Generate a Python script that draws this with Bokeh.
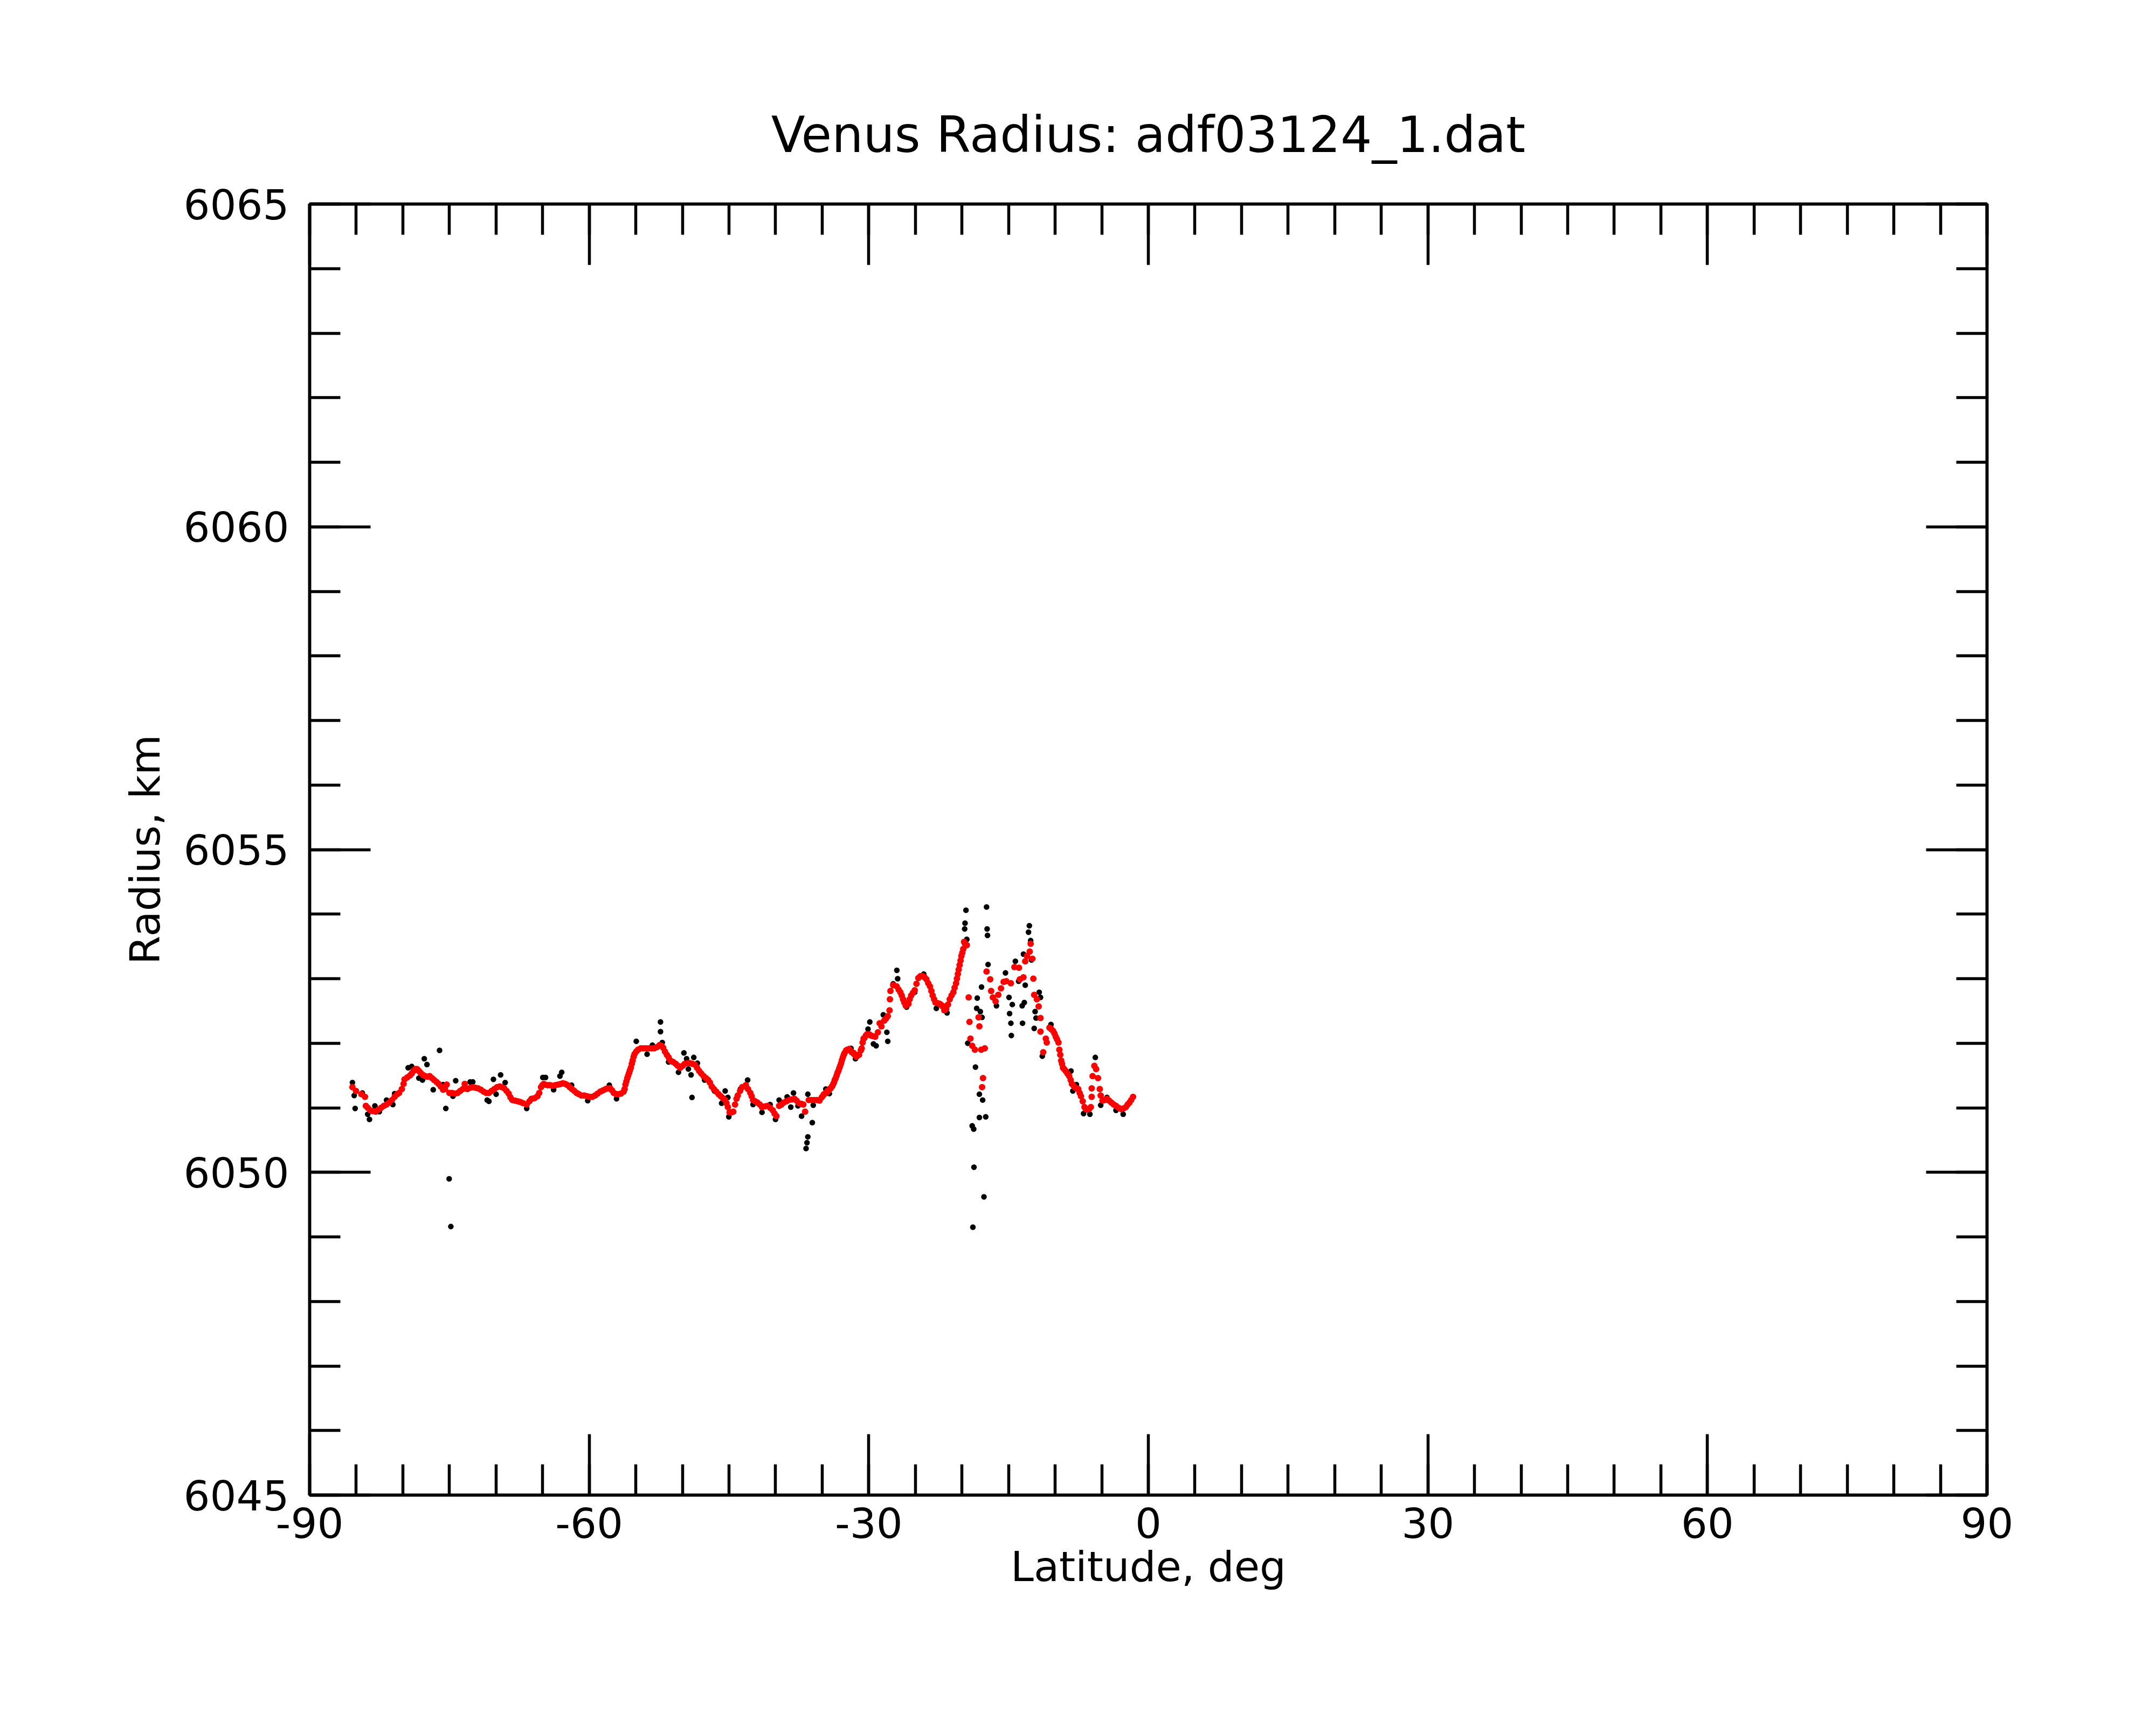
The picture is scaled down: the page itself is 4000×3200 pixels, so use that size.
from bokeh.plotting import figure
from bokeh.models import Range1d, SingleIntervalTicker, LinearAxis, CustomJSTickFormatter
from bokeh.embed import file_html
from bokeh.resources import INLINE

# ---- data ----
# filtered / smoothed radius (red)
red_lat = [-85.41, -85.03, -84.45, -84.06, -83.97, -83.48, -82.91, -82.33, -81.75, -81.17,
           -80.59, -80.11, -79.82, -79.24, -78.86, -78.47, -78.09, -77.60, -77.12, -76.64,
           -76.16, -75.68, -75.29, -75.00, -74.42, -73.84, -73.36, -73.07, -72.49, -71.92,
           -71.34, -70.76, -70.18, -69.60, -69.12, -68.64, -68.25, -67.67, -67.10, -66.71,
           -66.13, -65.55, -65.17, -64.88,
           -64.78, -64.20, -63.63, -63.05, -62.57, -62.09, -61.60, -61.12, -60.54, -59.96,
           -59.38, -58.81, -58.23, -57.75, -57.36, -56.88, -56.30, -56.11, -55.91, -55.72,
           -55.53, -55.34, -55.14, -54.76, -54.18, -53.60, -53.02, -52.45, -52.06, -51.67,
           -51.29, -50.71, -50.23, -49.75, -49.17, -48.68, -48.20, -47.72, -47.24, -46.85,
           -46.37, -45.89, -45.41, -45.12, -44.93, -44.54, -44.35, -44.06, -43.58,
           -43.19, -42.71, -42.42, -41.94, -41.46, -40.88, -40.30, -39.91, -39.62, -39.14,
           -38.56, -37.98, -37.50, -37.02, -36.83, -36.44, -35.86, -35.29, -34.80, -34.32,
           -33.84, -33.55, -33.26, -32.97, -32.68, -32.30, -31.82, -31.33, -30.85, -30.56,
           -30.18, -29.60, -29.31, -29.02, -28.83, -28.34, -27.96, -27.77, -27.67, -27.38,
           -27.00, -26.61, -26.32, -26.03, -25.74, -25.45, -25.07, -24.68, -24.20, -23.81,
           -23.43, -23.14, -22.85, -22.37, -22.08,
           -21.98, -21.69, -21.31, -20.92, -20.63, -20.44, -20.25, -20.06, -19.86, -19.77,
           -19.48, -19.28, -19.19, -19.09, -18.90, -18.61, -18.22, -18.13, -17.93, -17.55,
           -17.74, -17.84, -17.36, -16.97, -16.87, -16.68, -16.39, -16.10, -15.81, -15.53,
           -15.24, -14.75, -14.37, -13.88, -13.79, -13.40, -13.21, -13.02, -12.73, -12.63,
           -12.44, -12.34, -12.25, -11.96, -11.77, -11.57, -11.57, -11.28, -11.00, -10.90,
           -10.61, -10.22, -9.93, -9.64, -9.55, -9.35, -9.16, -8.87, -8.49, -8.20,
           -7.91, -7.52, -7.23, -6.85, -6.56, -6.17, -6.08, -6.08, -5.98, -5.79,
           -5.60, -5.40, -5.21, -5.11, -4.92, -4.44, -3.96, -3.47, -2.90, -2.41,
           -2.03, -1.64]
red_r = [6051.32, 6051.26, 6051.21, 6051.17, 6051.03, 6050.96, 6050.94, 6051.00, 6051.05, 6051.12,
         6051.21, 6051.29, 6051.44, 6051.50, 6051.57, 6051.60, 6051.54, 6051.49, 6051.49, 6051.43,
         6051.37, 6051.28, 6051.36, 6051.23, 6051.22, 6051.26, 6051.37, 6051.29, 6051.32, 6051.30,
         6051.25, 6051.23, 6051.29, 6051.33, 6051.30, 6051.22, 6051.12, 6051.10, 6051.07, 6051.05,
         6051.14, 6051.18, 6051.32, 6051.37,
         6051.36, 6051.35, 6051.35, 6051.37, 6051.37, 6051.32, 6051.26, 6051.21, 6051.19, 6051.17,
         6051.19, 6051.25, 6051.29, 6051.30, 6051.23, 6051.21, 6051.25, 6051.36, 6051.46, 6051.54,
         6051.62, 6051.73, 6051.83, 6051.90, 6051.92, 6051.92, 6051.92, 6051.97, 6051.93, 6051.82,
         6051.73, 6051.68, 6051.62, 6051.68, 6051.69, 6051.67, 6051.57, 6051.49, 6051.43, 6051.33,
         6051.25, 6051.18, 6051.12, 6051.01, 6050.93, 6050.94, 6051.05, 6051.19, 6051.32,
         6051.35, 6051.23, 6051.12, 6051.08, 6051.01, 6051.03, 6050.96, 6050.87, 6051.03, 6051.08,
         6051.12, 6051.14, 6051.07, 6051.05, 6050.94, 6051.12, 6051.12, 6051.11, 6051.21, 6051.26,
         6051.36, 6051.46, 6051.57, 6051.69, 6051.82, 6051.90, 6051.86, 6051.79, 6051.89, 6052.07,
         6052.14, 6052.11, 6052.10, 6052.17, 6052.31, 6052.35, 6052.42, 6052.51, 6052.81, 6052.90,
         6052.88, 6052.79, 6052.68, 6052.58, 6052.61, 6052.74, 6052.82, 6053.01, 6053.04, 6052.99,
         6052.88, 6052.74, 6052.63, 6052.61, 6052.57,
         6052.57, 6052.53, 6052.68, 6052.79, 6052.93, 6053.07, 6053.21, 6053.35, 6053.46, 6053.57,
         6053.52, 6052.71, 6052.33, 6052.07, 6051.96, 6051.90, 6052.40, 6052.26, 6051.90, 6051.92,
         6051.46, 6051.32, 6053.11, 6052.99, 6052.81, 6052.71, 6052.65, 6052.75, 6052.85, 6052.95,
         6052.96, 6052.93, 6053.18, 6053.17, 6052.99, 6053.02, 6053.27, 6053.35, 6053.42, 6053.54,
         6053.31, 6053.00, 6052.75, 6052.68, 6052.57, 6052.39, 6052.18, 6051.86, 6052.07, 6052.01,
         6052.24, 6052.19, 6052.10, 6052.01, 6051.90, 6051.73, 6051.62, 6051.57, 6051.49, 6051.37,
         6051.32, 6051.29, 6051.18, 6051.01, 6050.97, 6051.01, 6051.17, 6051.30, 6051.49, 6051.65,
         6051.60, 6051.46, 6051.29, 6051.19, 6051.11, 6051.14, 6051.08, 6051.03, 6050.98, 6051.01,
         6051.08, 6051.17]

# further red points read between the ones above
red_lat_more = [-83.77, -83.29, -82.62, -82.04, -81.46, -80.88, -80.40, -79.92, -79.53, -79.05,
                -78.66, -78.28, -77.85, -77.37, -76.87, -76.39, -75.93, -75.48, -74.71, -74.13,
                -73.56, -72.78, -72.21, -71.63, -71.05, -70.47, -69.89, -69.37, -68.87, -68.45,
                -67.96, -67.39, -66.42, -65.84, -65.36, -65.02,
                -64.49, -63.92, -63.34, -62.82, -62.32, -61.85, -61.35, -60.83, -60.25, -59.67,
                -59.10, -58.52, -58.00, -57.55, -57.11, -56.59, -56.20, -56.01, -55.82, -55.63,
                -55.43, -55.24, -54.95, -54.47, -53.89, -53.31, -52.73, -52.25, -51.87, -51.48,
                -51.00, -50.48, -49.98, -49.46, -48.94, -48.43, -47.97, -47.47, -47.05, -46.62,
                -46.12, -45.66, -45.27, -44.73, -44.19, -43.81,
                -42.96, -42.57, -42.19, -41.69, -41.17, -40.59, -40.11, -39.37, -38.85, -38.27,
                -37.75, -37.25, -36.15, -35.58, -35.05, -34.55, -34.09, -32.01, -31.58, -31.08,
                -29.89, -28.64, -28.15, -26.80, -26.46, -26.19, -25.61, -25.26, -24.88, -24.45,
                -24.01, -23.62, -23.28, -22.99, -22.60, -22.21,
                -10.42, -10.07, -9.80, -8.68, -8.33, -8.06, -7.72, -7.37, -7.04, -6.71,
                -6.37, -4.67, -4.21, -3.71, -3.19, -2.67, -2.22, -1.84,
                -34.90, -34.61, -34.42, -34.13, -33.94, -33.74, -33.65, -33.45, -33.36, -33.17,
                -33.07, -32.88, -32.78, -32.59, -32.43, -32.11, -31.62, -31.04, -30.76, -30.66,
                -30.47, -30.31, -29.98, -29.79, -27.73,
                -21.89, -21.50, -21.12, -20.79, -20.54, -20.35, -20.15, -19.96, -19.67,
                -9.45, -9.26, -9.03]
red_r_more = [6051.00, 6050.95, 6050.97, 6051.03, 6051.08, 6051.17, 6051.23, 6051.37, 6051.47, 6051.53,
              6051.60, 6051.57, 6051.51, 6051.48, 6051.46, 6051.40, 6051.33, 6051.29, 6051.23, 6051.23,
              6051.29, 6051.31, 6051.31, 6051.28, 6051.23, 6051.26, 6051.32, 6051.32, 6051.26, 6051.16,
              6051.11, 6051.09, 6051.10, 6051.15, 6051.23, 6051.35,
              6051.35, 6051.34, 6051.36, 6051.38, 6051.35, 6051.29, 6051.23, 6051.19, 6051.18, 6051.17,
              6051.22, 6051.27, 6051.30, 6051.27, 6051.21, 6051.22, 6051.29, 6051.41, 6051.50, 6051.58,
              6051.68, 6051.79, 6051.87, 6051.92, 6051.92, 6051.92, 6051.94, 6051.96, 6051.87, 6051.78,
              6051.71, 6051.65, 6051.65, 6051.69, 6051.68, 6051.62, 6051.53, 6051.46, 6051.39, 6051.29,
              6051.21, 6051.15, 6051.07, 6050.93, 6051.14, 6051.26,
              6051.29, 6051.18, 6051.10, 6051.05, 6051.02, 6051.00, 6050.91, 6051.05, 6051.10, 6051.13,
              6051.11, 6051.06, 6051.12, 6051.12, 6051.16, 6051.23, 6051.30, 6051.89, 6051.83, 6051.82,
              6052.13, 6052.26, 6052.38, 6052.83, 6052.74, 6052.63, 6052.68, 6052.78, 6052.92, 6053.04,
              6053.02, 6052.93, 6052.81, 6052.68, 6052.62, 6052.59,
              6052.22, 6052.15, 6052.06, 6051.53, 6051.43, 6051.35, 6051.30, 6051.23, 6051.10, 6050.98,
              6050.98, 6051.12, 6051.11, 6051.05, 6051.00, 6050.99, 6051.05, 6051.12,
              6051.19, 6051.23, 6051.26, 6051.30, 6051.33, 6051.39, 6051.43, 6051.50, 6051.54, 6051.61,
              6051.65, 6051.74, 6051.78, 6051.85, 6051.89, 6051.91, 6051.85, 6051.82, 6051.92, 6052.01,
              6052.08, 6052.12, 6052.14, 6052.12, 6052.68,
              6052.51, 6052.60, 6052.74, 6052.86, 6053.00, 6053.14, 6053.28, 6053.40, 6053.54,
              6051.82, 6051.68, 6051.60]

# raw radius points visible around / off the red curve (black)
raw_lat = [-85.41, -85.12, -85.22, -84.35, -83.77, -83.58, -83.00, -82.52, -81.75, -81.07,
           -80.88, -79.43, -79.05, -78.28, -77.89, -77.70, -77.41, -76.06, -76.74, -75.68,
           -75.39, -75.03, -74.85, -74.62, -74.33, -72.78, -72.49, -70.95, -70.76, -70.28,
           -69.99, -69.51, -69.02, -66.71, -66.23, -64.98,
           -64.69, -62.95, -63.14, -63.82, -61.89, -60.16, -57.84, -57.07, -54.95, -53.79,
           -53.22, -52.35, -52.35, -52.16, -51.48, -50.42, -49.84, -49.55, -49.36, -49.07,
           -48.97, -48.78, -48.39, -47.62, -46.56, -45.79, -45.41, -45.12, -45.02, -43.77,
           -43.00, -42.42, -41.46, -40.59, -40.01, -39.62, -38.76, -38.37, -38.08, -37.60,
           -37.21, -36.54, -36.06, -36.54, -36.63, -36.73, -35.96, -34.61, -34.23, -31.91,
           -31.43, -29.89, -30.08, -29.50, -29.21, -28.44, -28.06, -27.96, -26.99, -26.90,
           -27.38, -25.94, -25.07, -24.10, -22.75,
           -19.57, -19.67, -19.71, -19.48, -21.60, -17.36, -17.30, -17.26, -17.20, -17.90,
           -18.36, -18.42, -18.03, -17.84, -19.38, -18.55, -18.13, -17.78, -18.13, -17.45,
           -18.90, -18.74, -18.71, -17.64, -18.83, -15.33, -16.30, -14.95, -14.60, -14.89,
           -14.75, -14.70, -14.27, -13.50, -13.54, -13.31, -13.21, -13.92, -13.40, -12.86,
           -12.77, -12.63, -12.54, -11.71, -11.57, -12.15, -12.05, -12.25, -11.38, -10.45,
           -8.30, -7.72, -8.10, -6.95, -6.27, -5.69, -5.11, -4.44, -3.47, -2.70]
raw_r = [6051.39, 6050.99, 6051.19, 6051.23, 6050.90, 6050.82, 6051.03, 6050.94, 6051.12, 6051.05,
         6051.22, 6051.62, 6051.64, 6051.46, 6051.43, 6051.76, 6051.67, 6051.89, 6051.28, 6051.36,
         6050.99, 6049.90, 6049.16, 6051.18, 6051.42, 6051.40, 6051.40, 6051.12, 6051.10, 6051.44,
         6051.21, 6051.51, 6051.39, 6050.99, 6051.14, 6051.47,
         6051.47, 6051.55, 6051.49, 6051.28, 6051.35, 6051.11, 6051.35, 6051.14, 6052.03, 6051.83,
         6051.97, 6052.33, 6052.18, 6052.01, 6051.71, 6051.55, 6051.85, 6051.76, 6051.60, 6051.51,
         6051.16, 6051.78, 6051.69, 6051.43, 6051.26, 6051.07, 6051.26, 6051.16, 6050.86, 6051.29,
         6051.43, 6051.05, 6050.93, 6051.05, 6050.82, 6051.12, 6051.17, 6051.01, 6051.23, 6051.03,
         6050.87, 6051.21, 6050.77, 6050.55, 6050.46, 6050.37, 6051.04, 6051.29, 6051.22, 6051.92,
         6051.76, 6052.33, 6052.22, 6051.99, 6051.96, 6052.44, 6052.17, 6052.03, 6053.13, 6053.00,
         6052.92, 6052.56, 6052.79, 6053.07, 6052.54,
         6054.06, 6053.86, 6053.77, 6053.61, 6052.47, 6054.11, 6053.77, 6053.67, 6053.22, 6052.87,
         6052.70, 6052.54, 6052.49, 6052.40, 6052.00, 6051.63, 6051.21, 6051.12, 6050.85, 6050.86,
         6050.72, 6050.67, 6050.08, 6049.62, 6049.15, 6053.09, 6052.58, 6052.71, 6052.60, 6052.46,
         6052.31, 6052.12, 6053.27, 6052.31, 6052.58, 6052.63, 6052.90, 6052.96, 6053.38, 6053.72,
         6053.82, 6053.59, 6053.29, 6052.79, 6052.71, 6052.49, 6052.39, 6052.23, 6051.80, 6052.29,
         6051.57, 6051.36, 6051.26, 6050.91, 6050.90, 6051.78, 6051.04, 6051.16, 6050.96, 6050.90]

title_text = "Venus Radius: adf03124_1.dat"
x_label = "Latitude, deg"
y_label = "Radius, km"

FONT = "DejaVu Sans"
LW = 5.5

p = figure(width=3984, height=3184, output_backend="svg", toolbar_location=None,
           x_range=Range1d(-90, 90), y_range=Range1d(6045, 6065),
           min_border_left=574, min_border_right=298, min_border_top=378, min_border_bottom=411,
           title=title_text, x_axis_label=x_label, y_axis_label=y_label)

p.background_fill_color = "white"
p.border_fill_color = "white"
p.outline_line_color = "black"
p.outline_line_width = LW
p.xgrid.visible = False
p.ygrid.visible = False

p.title.text_font = FONT
p.title.text_font_size = "92px"
p.title.text_font_style = "normal"
p.title.text_color = "black"
p.title.align = "center"
p.title.standoff = 150

plain = CustomJSTickFormatter(code="return tick.toFixed(0);")

def style_axis(ax, show_labels):
    ax.axis_line_width = LW
    ax.axis_line_color = "black"
    ax.major_tick_line_width = LW
    ax.minor_tick_line_width = LW
    ax.major_tick_line_color = "black"
    ax.minor_tick_line_color = "black"
    ax.major_tick_in = 113
    ax.major_tick_out = 0
    ax.minor_tick_in = 57
    ax.minor_tick_out = 0
    ax.major_label_text_font = FONT
    ax.major_label_text_color = "black"
    if show_labels:
        ax.formatter = plain
        ax.major_label_text_font_size = "77px"
    else:
        ax.formatter = CustomJSTickFormatter(code="return '';")
        ax.major_label_text_font_size = "1px"
        ax.major_label_standoff = 0

xax = p.xaxis[0]
xax.ticker = SingleIntervalTicker(interval=30, num_minor_ticks=6)
style_axis(xax, True)
xax.major_label_standoff = 23
xax.axis_label_text_font = FONT
xax.axis_label_text_font_size = "77px"
xax.axis_label_text_font_style = "normal"
xax.axis_label_text_color = "black"
xax.axis_label_standoff = 6

yax = p.yaxis[0]
yax.ticker = SingleIntervalTicker(interval=5, num_minor_ticks=5)
style_axis(yax, True)
yax.major_label_standoff = 38
yax.axis_label_text_font = FONT
yax.axis_label_text_font_size = "77px"
yax.axis_label_text_font_style = "normal"
yax.axis_label_text_color = "black"
yax.axis_label_standoff = 24

top_ax = LinearAxis(ticker=SingleIntervalTicker(interval=30, num_minor_ticks=6))
style_axis(top_ax, False)
p.add_layout(top_ax, "above")
right_ax = LinearAxis(ticker=SingleIntervalTicker(interval=5, num_minor_ticks=5))
style_axis(right_ax, False)
p.add_layout(right_ax, "right")

p.scatter(raw_lat, raw_r, size=10.5, color="black", line_color=None)
p.scatter(red_lat + red_lat_more, red_r + red_r_more, size=12, color="red", line_color=None)

open("out.html", "w").write(file_html(p, INLINE))
